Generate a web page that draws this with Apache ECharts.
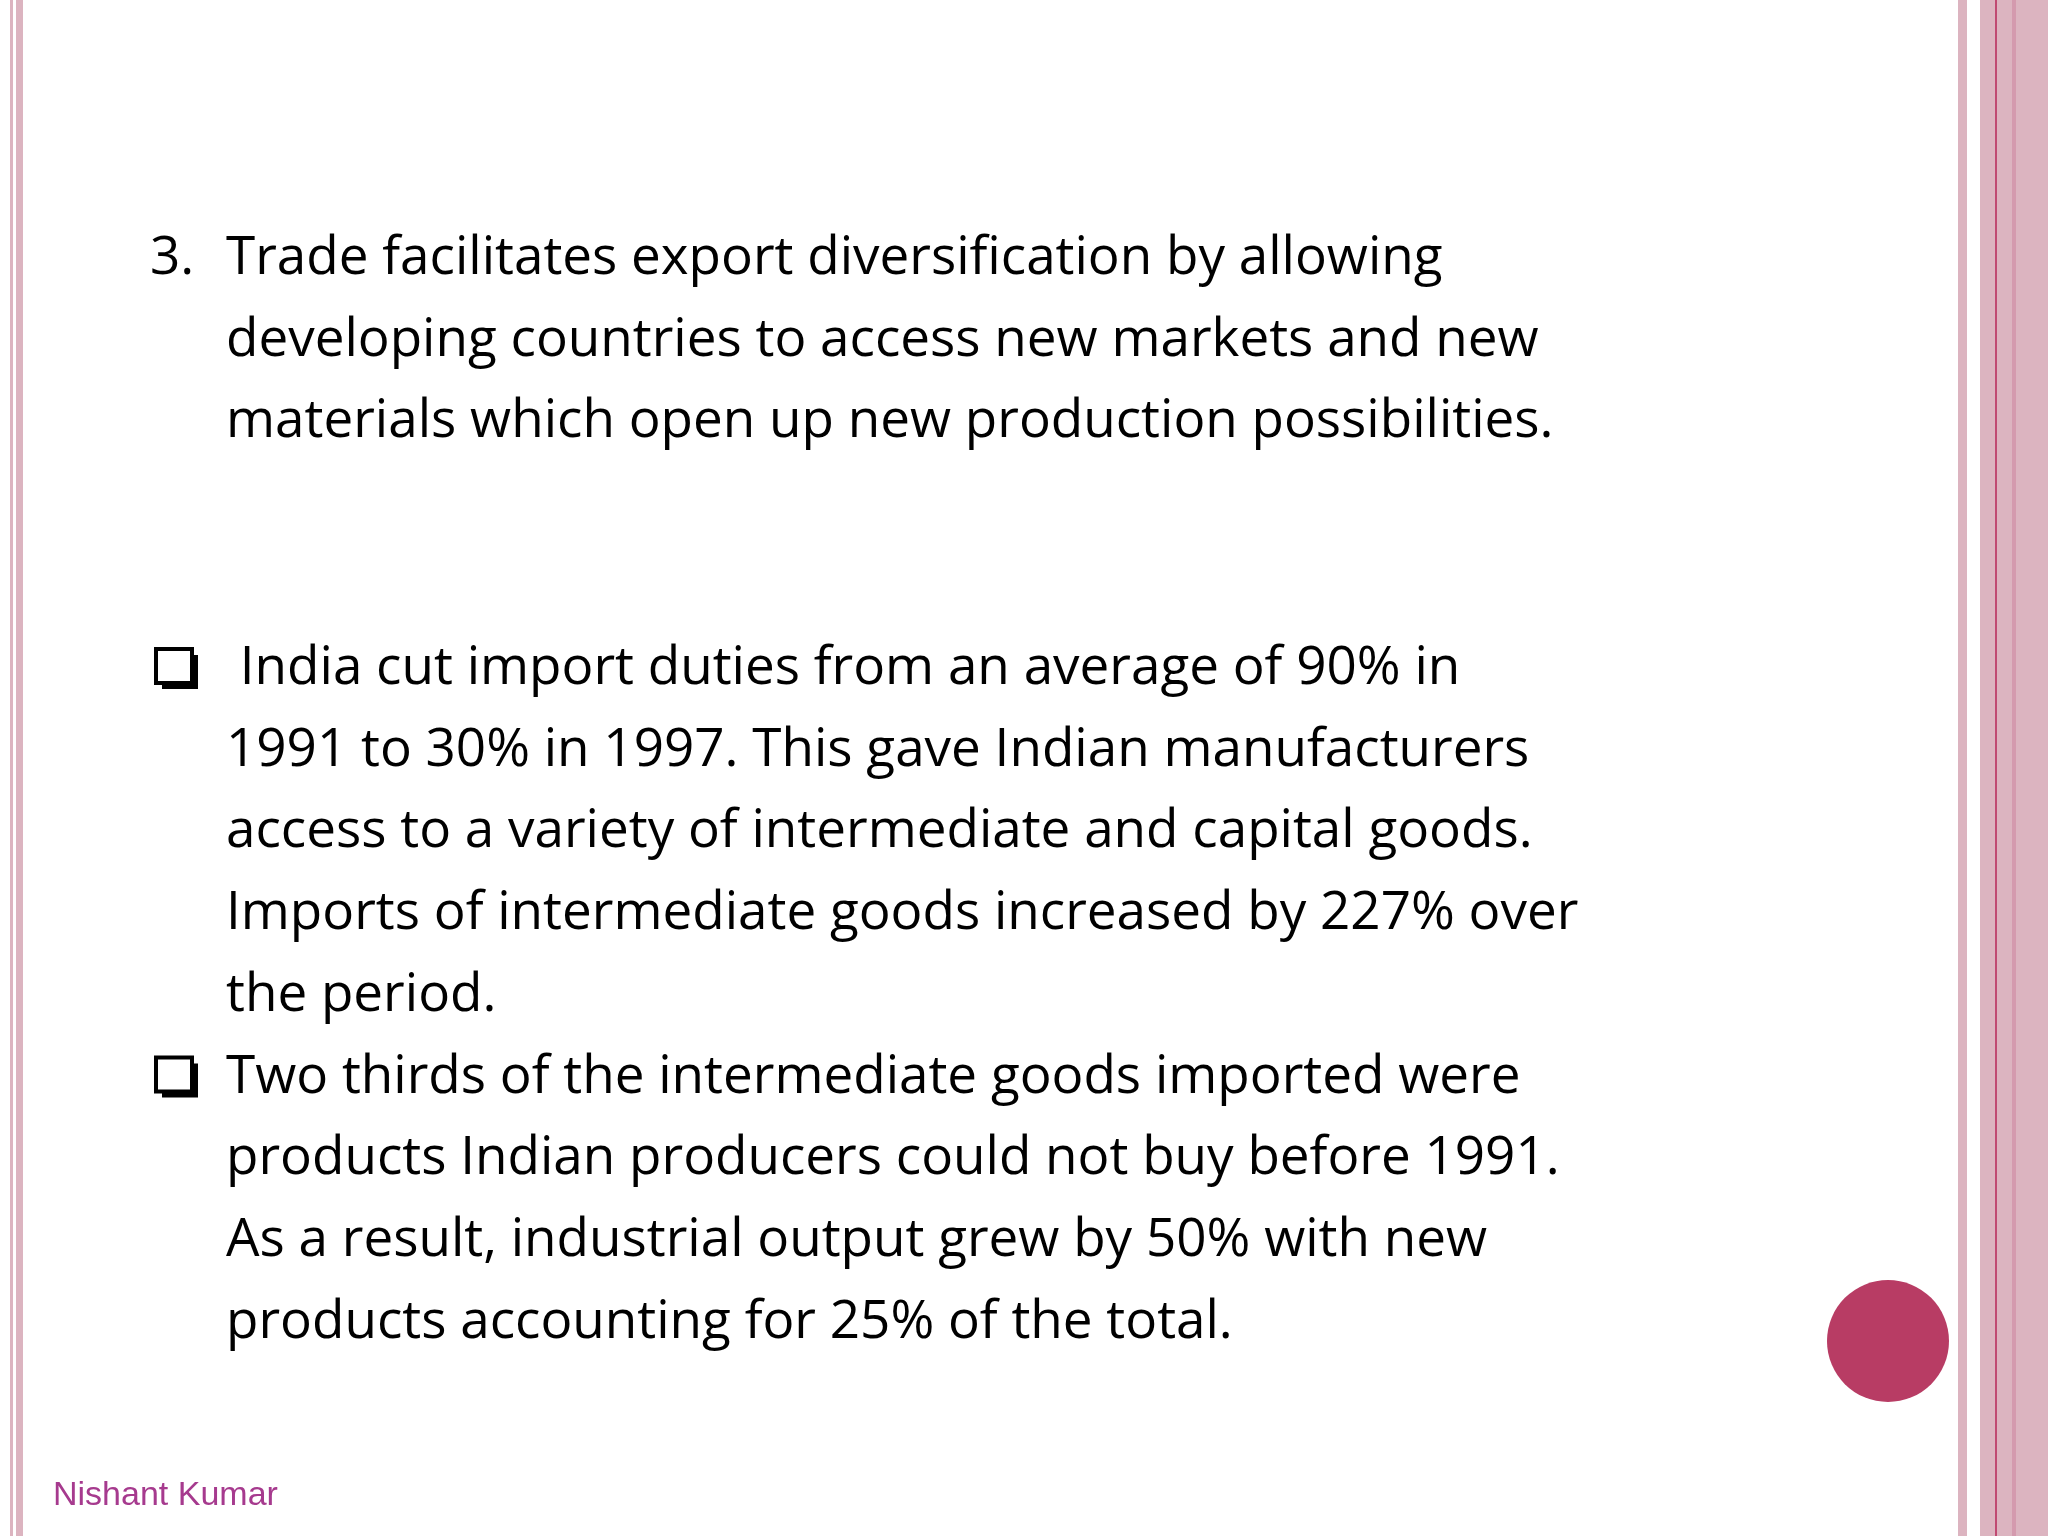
<!DOCTYPE html>
<html>
<head>
<meta charset="utf-8">
<script src="https://cdn.jsdelivr.net/npm/echarts@6/dist/echarts.min.js"></script>
<style>html,body{margin:0;padding:0;background:#fff}#chart{width:2048px;height:1536px}</style>
</head>
<body>
<div id="chart"></div>
<script>
// slide text
var pointNumber = '3.';
var pointLines = [
  'Trade facilitates export diversification by allowing',
  'developing countries to access new markets and new',
  'materials which open up new production possibilities.'
];
var bulletOneLines = [
  ' India cut import duties from an average of 90% in',
  '1991 to 30% in 1997. This gave Indian manufacturers',
  'access to a variety of intermediate and capital goods.',
  'Imports of intermediate goods increased by 227% over',
  'the period.'
];
var bulletTwoLines = [
  'Two thirds of the intermediate goods imported were',
  'products Indian producers could not buy before 1991.',
  'As a result, industrial output grew by 50% with new',
  'products accounting for 25% of the total.'
];
var footerText = 'Nishant Kumar';

var myChart = echarts.init(document.getElementById('chart'));

var FONT = '"Open Sans", sans-serif';
var SIZE = 53;
var LINE = 81.7;
var elements = [];

function textLine(str, x, y) {
  return {
    type: 'text', x: x, y: y,
    style: { text: str, fill: '#000', font: SIZE + 'px ' + FONT, textVerticalAlign: 'middle' }
  };
}
function checkbox(x, y) {
  return {
    type: 'group', x: x, y: y,
    children: [
      { type: 'rect', shape: { x: 6, y: -14, width: 36, height: 34 }, style: { fill: '#000' } },
      { type: 'rect', shape: { x: 0, y: -20, width: 36, height: 34 }, style: { fill: '#fff', stroke: '#000', lineWidth: 4 } }
    ]
  };
}

// borders
elements.push({ type: 'rect', shape: { x: 10, y: 0, width: 3, height: 1536 }, style: { fill: '#dcb4c0' } });
elements.push({ type: 'rect', shape: { x: 16, y: 0, width: 7, height: 1536 }, style: { fill: '#dcb4c0' } });
elements.push({ type: 'rect', shape: { x: 1958, y: 0, width: 9, height: 1536 }, style: { fill: '#dcb4c0' } });
elements.push({ type: 'rect', shape: { x: 1980, y: 0, width: 68, height: 1536 }, style: { fill: '#dcb4c0' } });
elements.push({ type: 'rect', shape: { x: 2012, y: 0, width: 4, height: 1536 }, style: { fill: '#d49aae' } });
elements.push({ type: 'rect', shape: { x: 1995, y: 0, width: 2, height: 1536 }, style: { fill: '#c04a72' } });
elements.push({ type: 'circle', shape: { cx: 1888, cy: 1341, r: 61 }, style: { fill: '#b83c64' } });

// point 3
elements.push(textLine(pointNumber, 150, 259));
pointLines.forEach(function (s, i) { elements.push(textLine(s, 226, 259 + i * LINE)); });

// bullets
var b1y = 669;
elements.push(checkbox(156, b1y));
bulletOneLines.forEach(function (s, i) { elements.push(textLine(s, 226, b1y + i * LINE)); });
var b2y = b1y + bulletOneLines.length * LINE;
elements.push(checkbox(156, b2y));
bulletTwoLines.forEach(function (s, i) { elements.push(textLine(s, 226, b2y + i * LINE)); });

// footer
elements.push({
  type: 'text', x: 53, y: 1496,
  style: { text: footerText, fill: '#a63a8e', font: '34px "Liberation Sans", Arial, sans-serif', textVerticalAlign: 'middle' }
});

myChart.setOption({
  backgroundColor: '#fff',
  animation: false,
  graphic: { elements: elements }
});
</script>
</body>
</html>
